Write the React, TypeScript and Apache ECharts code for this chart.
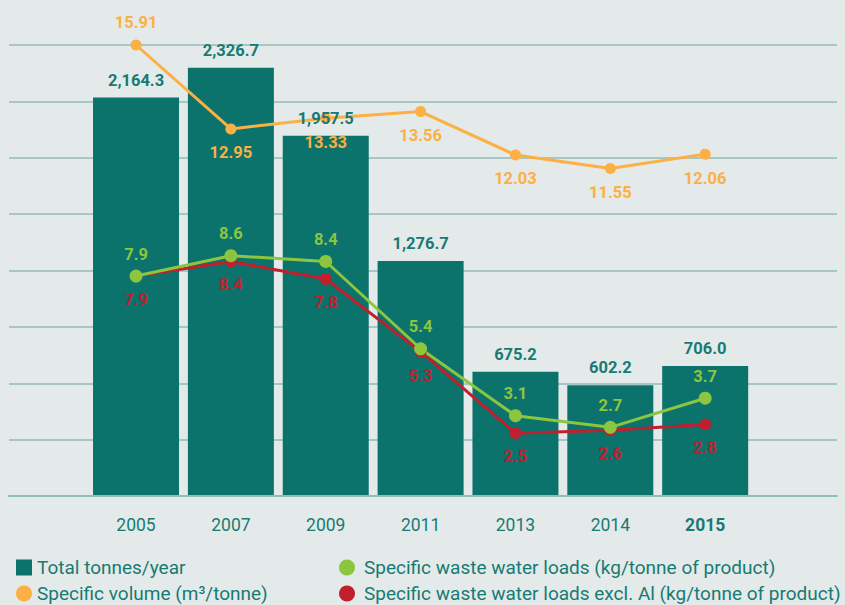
import React, { useEffect, useRef } from "react";
import * as echarts from "echarts";

const years = ["2005", "2007", "2009", "2011", "2013", "2014", "2015"];
const totalTonnes = [2164.3, 2326.7, 1957.5, 1276.7, 675.2, 602.2, 706.0];
const specificVolume = [15.91, 12.95, 13.33, 13.56, 12.03, 11.55, 12.06];
const wasteLoads = [7.9, 8.6, 8.4, 5.4, 3.1, 2.7, 3.7];
const wasteLoadsExclAl = [7.9, 8.4, 7.8, 5.3, 2.5, 2.6, 2.8];

const NAME_BAR = "Total tonnes/year";
const NAME_VOL = "Specific volume (m³/tonne)";
const NAME_WW = "Specific waste water loads (kg/tonne of product)";
const NAME_WWX = "Specific waste water loads excl. Al (kg/tonne of product)";

const FONT = "Roboto, 'Liberation Sans', sans-serif";
const BG = "#e4eaea";
const GRIDC = "#92bdb7";
const TEAL = "#0b736c";
const TEXT = "#177a73";
const ORANGE = "#fcb043";
const GREEN = "#8cc63f";
const RED = "#c0202e";
const LABEL_SIZE = 16.5;

export default function App() {
  const ref = useRef<HTMLDivElement>(null);
  useEffect(() => {
    document.body.style.margin = "0";
    if (!ref.current) return;
    const chart = echarts.init(ref.current, null, { renderer: "svg" });
    const legendCommon = {
      padding: 0,
      itemWidth: 16,
      itemHeight: 16,
      selectedMode: false,
      textStyle: { color: TEXT, fontSize: 19, fontFamily: FONT },
    };
    const legendCol2 = {
      ...legendCommon,
      textStyle: { ...legendCommon.textStyle, padding: [0, 0, 0, 4] },
    };
    const labelBase = {
      show: true,
      fontSize: LABEL_SIZE,
      fontWeight: "bold",
      fontFamily: FONT,
    };
    const fmt = (p: any) =>
      Number(p.value).toLocaleString("en-US", {
        minimumFractionDigits: 1,
        maximumFractionDigits: 1,
      });
    const option: any = {
      animation: false,
      backgroundColor: BG,
      textStyle: { fontFamily: FONT },
      grid: [
        { left: 9, right: 8, top: 45, bottom: 109 },
        { left: 88.6, right: 92.4, top: 45, bottom: 109 },
      ],
      xAxis: [
        {
          gridIndex: 0,
          type: "value",
          min: 0,
          max: 1,
          z: 3,
          axisLine: { show: true, lineStyle: { color: GRIDC, width: 2 } },
          axisTick: { show: false },
          axisLabel: { show: false },
          splitLine: { show: false },
        },
        {
          gridIndex: 1,
          type: "category",
          data: years.map((y, i) =>
            i === years.length - 1
              ? { value: y, textStyle: { fontWeight: "bold" } }
              : y
          ),
          axisLine: { show: false },
          axisTick: { show: false },
          axisLabel: { color: TEXT, fontSize: 17.5, fontFamily: FONT, margin: 20 },
        },
      ],
      yAxis: [
        {
          gridIndex: 0,
          type: "value",
          min: 0,
          max: 8,
          interval: 1,
          axisLine: { show: false },
          axisTick: { show: false },
          axisLabel: { show: false },
          splitLine: { show: true, lineStyle: { color: GRIDC, width: 1.5 } },
        },
        { gridIndex: 1, type: "value", min: 0, max: 2450, show: false },
        { gridIndex: 1, type: "value", min: 0, max: 15.91, show: false },
        { gridIndex: 1, type: "value", min: 0.34, max: 15.84, show: false },
      ],
      legend: [
        { ...legendCommon, data: [{ name: NAME_BAR, icon: "rect" }], left: 16, top: 558 },
        { ...legendCommon, data: [{ name: NAME_VOL, icon: "circle" }], left: 16, top: 584 },
        { ...legendCol2, data: [{ name: NAME_WW, icon: "circle" }], left: 339, top: 558 },
        { ...legendCol2, data: [{ name: NAME_WWX, icon: "circle" }], left: 339, top: 584 },
      ],
      series: [
        {
          name: NAME_BAR,
          type: "bar",
          xAxisIndex: 1,
          yAxisIndex: 1,
          barWidth: 86,
          itemStyle: { color: TEAL },
          data: totalTonnes,
        },
        {
          name: NAME_VOL,
          type: "line",
          xAxisIndex: 1,
          yAxisIndex: 2,
          symbol: "circle",
          symbolSize: 11,
          lineStyle: { color: ORANGE, width: 3 },
          itemStyle: { color: ORANGE },
          label: { ...labelBase, position: "bottom", distance: 10, color: ORANGE },
          data: specificVolume.map((v, i) =>
            i === 0 ? { value: v, label: { position: "top", distance: 9 } } : v
          ),
        },
        {
          name: NAME_WWX,
          type: "line",
          xAxisIndex: 1,
          yAxisIndex: 3,
          symbol: "circle",
          symbolSize: 12,
          lineStyle: { color: RED, width: 3 },
          itemStyle: { color: RED },
          label: { ...labelBase, position: "bottom", distance: 9, color: RED },
          data: wasteLoadsExclAl,
        },
        {
          name: NAME_WW,
          type: "line",
          xAxisIndex: 1,
          yAxisIndex: 3,
          symbol: "circle",
          symbolSize: 13,
          lineStyle: { color: GREEN, width: 3 },
          itemStyle: { color: GREEN },
          label: { ...labelBase, position: "top", distance: 7, color: GREEN },
          data: wasteLoads,
        },
        {
          name: "bar-labels",
          type: "bar",
          xAxisIndex: 1,
          yAxisIndex: 1,
          barWidth: 86,
          barGap: "-100%",
          z: 10,
          silent: true,
          itemStyle: { color: "rgba(0,0,0,0)" },
          label: { ...labelBase, position: "top", distance: 9, color: TEXT, formatter: fmt },
          data: totalTonnes,
        },
      ],
    };
    chart.setOption(option);
    return () => chart.dispose();
  }, []);
  return <div ref={ref} style={{ width: 845, height: 605 }} />;
}
